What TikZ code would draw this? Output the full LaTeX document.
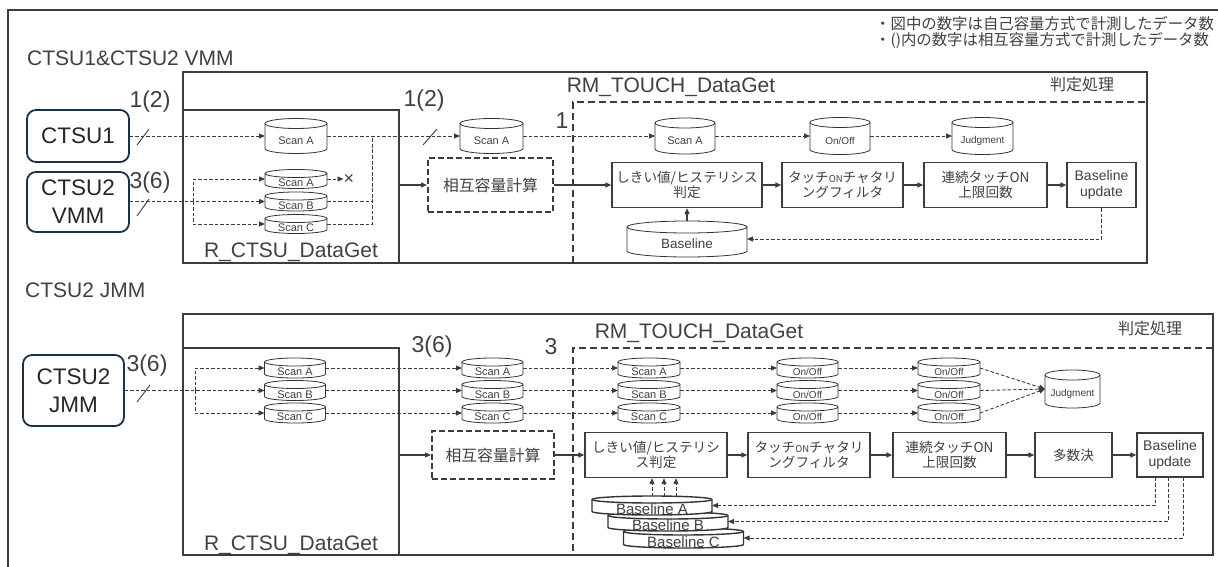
\documentclass[tikz,border=0pt]{standalone}
\usepackage{fontspec}
\setmainfont{Liberation Sans}
\newfontfamily\jpfont{Noto Sans CJK JP}
\usetikzlibrary{arrows.meta,calc}

\definecolor{ink}{HTML}{3C3C3C}
\definecolor{txt}{HTML}{404040}
\definecolor{navy}{HTML}{1C3048}
\definecolor{cylink}{HTML}{333333}

\newcommand\fs[2]{\fontsize{#1}{#2}\selectfont}

% database symbol: [extra style]{name}{x}{y}{width}{height}{end half-height}{font size}{text}
\newcommand\dbcyl[9][]{%
  \path[cylline,#1] (#3-#5/2,#4-#6/2+#7)
     arc[start angle=180,end angle=0,x radius=#5*0.5pt,y radius=#7*1pt]
     -- (#3+#5/2,#4+#6/2-#7)
     arc[start angle=0,end angle=-180,x radius=#5*0.5pt,y radius=#7*1pt]
     -- cycle;
  \draw[cylline,#1,fill=none] (#3-#5/2,#4-#6/2+#7)
     arc[start angle=180,end angle=360,x radius=#5*0.5pt,y radius=#7*1pt];
  \node[cylbox,minimum width=#5pt,minimum height=#6pt] (#2) at (#3,#4) {};
  \node[cyltext,font=\fs{#8}{#8}] (#2-t) at (#3,#4+#7*0.5+2) {#9};
}

\tikzset{
  frameline/.style={draw=ink,line width=2pt},
  container/.style={draw=ink,line width=2pt,inner sep=0,outer sep=0},
  dashcontainer/.style={draw=ink,line width=2pt,dash pattern=on 7pt off 4pt,inner sep=0,outer sep=0},
  src/.style={draw=navy,line width=1.8pt,rounded corners=9pt,align=center,inner sep=0,
              text=black!85,font=\fs{22.5}{28}},
  procbox/.style={draw=ink,line width=1.3pt,fill=white,align=center,inner sep=0,
                  text=txt,font=\jpfont\fs{13.6}{15.5}},
  calcbox/.style={procbox,line width=2pt,dash pattern=on 6pt off 3pt,font=\jpfont\fs{15.8}{18}},
  cylline/.style={draw=cylink,fill=white,line width=0.8pt},
  thickcyl/.style={line width=1.4pt},
  cylbox/.style={inner sep=0,outer sep=0},
  cyltext/.style={inner sep=0,text=black!75},
  flow/.style={draw=ink,line width=1.2pt,-{Triangle[length=6pt,width=5pt]}},
  data/.style={draw=ink,line width=0.9pt,dash pattern=on 3.5pt off 2pt},
  dataarrow/.style={data,-{Triangle[length=6pt,width=5pt]}},
  tick/.style={draw=ink,line width=0.9pt},
  count/.style={inner sep=0,text=txt,font=\fs{23}{23}},
  title/.style={inner sep=0,text=txt,font=\fs{21}{21}},
  jplabel/.style={inner sep=0,text=txt,font=\jpfont\fs{16}{16}},
}

\begin{document}
\begin{tikzpicture}[x=1pt,y=-1pt]
\useasboundingbox (0,0) rectangle (1218,567);
\draw[frameline] (8,10) rectangle (1240,590);

% notes
\node[jplabel,font=\jpfont\fs{15.4}{15.4},anchor=west] (note1) at (875,24) {・図中の数字は自己容量方式で計測したデータ数};
\node[jplabel,font=\jpfont\fs{15.4}{15.4},anchor=west] (note2) at (875,40) {・()内の数字は相互容量方式で計測したデータ数};

% ================= CTSU1 & CTSU2 VMM =================
\node[title,anchor=west] (secU) at (27,58) {CTSU1\&CTSU2 VMM};

\node[dashcontainer,minimum width=574pt,minimum height=161pt] (judU) at (860,182.5) {};
\node[container,minimum width=964pt,minimum height=191pt] (rmU) at (665,167.5) {};
\node[container,minimum width=216pt,minimum height=153pt] (rctU) at (291,186.5) {};
\node[title] (rmUt) at (671,87) {RM\_TOUCH\_DataGet};
\node[title] (rctUt) at (291,252) {R\_CTSU\_DataGet};
\node[jplabel] (judUt) at (1082,84) {判定処理};

\node[src,minimum width=102pt,minimum height=52pt] (ctsu1) at (78,136) {CTSU1};
\node[src,minimum width=102pt,minimum height=60pt] (vmm) at (78,202) {CTSU2\\VMM};

\dbcyl{sA1}{296}{136}{62}{35}{5}{11}{Scan A}
\dbcyl{vA}{296}{179}{62}{19}{4}{11}{Scan A}
\dbcyl{vB}{296}{201.5}{62}{19}{4}{11}{Scan B}
\dbcyl{vC}{296}{224}{62}{19}{4}{11}{Scan C}
\dbcyl{sA3}{491.5}{136}{63}{35}{5}{11}{Scan A}
\dbcyl{sA4}{685}{136}{60}{36}{5}{11}{Scan A}
\dbcyl{onU}{840}{136}{60}{37}{5}{10}{On/Off}
\dbcyl{jdU}{982.5}{136}{61}{37}{5}{10}{Judgment}
\dbcyl{bsU}{687}{239}{120}{36}{6}{13.5}{Baseline}

\node[calcbox,minimum width=125pt,minimum height=54pt] (mutU) at (490.5,185) {相互容量計算};
\node[procbox,minimum width=150pt,minimum height=45pt] (thrU) at (687,185) {しきい値/ヒステリシス\\判定};
\node[procbox,minimum width=121pt,minimum height=45pt] (chU) at (842.5,185) {タッチ{\fs{9.5}{15.5}ON}チャタリ\\ングフィルタ};
\node[procbox,minimum width=123pt,minimum height=45pt] (ctU) at (985.5,185) {連続タッチON\\上限回数};
\node[procbox,font=\fs{14}{16},minimum width=69pt,minimum height=45pt] (buU) at (1101.5,185) {Baseline\\update};

\node[inner sep=0,text=txt,font=\fs{18}{18}] (xU) at (349,179) {×};

% data paths
\draw[dataarrow] (ctsu1.east) -- (sA1.west);
\draw[tick] (137,145) -- (149,129);
\node[count] (n12a) at (150,102) {1(2)};

\coordinate (brU) at (193,201.5);
\draw[dataarrow] (vmm.east |- vB.west) -- (vB.west);
\draw[dataarrow] (brU) |- (vA.west);
\draw[dataarrow] (brU) |- (vC.west);
\draw[tick] (137,216) -- (149,199);
\node[count] (n36a) at (150,183) {3(6)};

\draw[dataarrow] (vA.east) -- (xU.west);
\coordinate (jU) at (372,136);
\draw[data] (vB.east) -| (jU);
\draw[data] (vC.east) -| (jU);
\draw[dataarrow] (sA1.east) -- (sA3.west);
\draw[tick] (423,145) -- (437,129);
\node[count] (n12b) at (424,101) {1(2)};
\draw[dataarrow] (sA3.east) -- (sA4.west);
\node[count] (n1) at (562,121) {1};
\draw[dataarrow] (sA4.east) -- (onU.west);
\draw[dataarrow] (onU.east) -- (jdU.west);

% processing chain
\draw[flow] (rctU.east |- mutU.west) -- (mutU.west);
\draw[flow] (mutU.east) -- (thrU.west);
\draw[flow] (thrU.east) -- (chU.west);
\draw[flow] (chU.east) -- (ctU.west);
\draw[flow] (ctU.east) -- (buU.west);
\draw[flow] (bsU.north) -- (thrU.south);
\draw[dataarrow] (buU.south) |- (bsU.east);

% ================= CTSU2 JMM =================
\node[title,anchor=west] (secL) at (25,290) {CTSU2 JMM};

\node[dashcontainer,minimum width=640pt,minimum height=207pt] (judL) at (893,451.5) {};
\node[container,minimum width=1030pt,minimum height=241pt] (rmL) at (698,434.5) {};
\node[container,minimum width=216pt,minimum height=207pt] (rctL) at (291,451.5) {};
\node[title] (rmLt) at (699,333) {RM\_TOUCH\_DataGet};
\node[title] (rctLt) at (291,545) {R\_CTSU\_DataGet};
\node[jplabel] (judLt) at (1150,328) {判定処理};

\node[src,minimum width=101pt,minimum height=71pt] (jmm) at (73.5,390.5) {CTSU2\\JMM};

\dbcyl{lA1}{295}{368}{61}{20}{4}{11}{Scan A}
\dbcyl{lB1}{295}{390.5}{61}{20}{4}{11}{Scan B}
\dbcyl{lC1}{295}{413}{61}{20}{4}{11}{Scan C}
\dbcyl{lA2}{492.5}{368}{61}{20}{4}{11}{Scan A}
\dbcyl{lB2}{492.5}{390.5}{61}{20}{4}{11}{Scan B}
\dbcyl{lC2}{492.5}{413}{61}{20}{4}{11}{Scan C}
\dbcyl{lA3}{649}{368}{62}{20}{4}{11}{Scan A}
\dbcyl{lB3}{649}{390.5}{62}{20}{4}{11}{Scan B}
\dbcyl{lC3}{649}{413}{62}{20}{4}{11}{Scan C}
\dbcyl{lA4}{807.5}{368}{61}{20}{4}{10}{On/Off}
\dbcyl{lB4}{807.5}{390.5}{61}{20}{4}{10}{On/Off}
\dbcyl{lC4}{807.5}{413}{61}{20}{4}{10}{On/Off}
\dbcyl{lA5}{949}{368}{62}{20}{4}{10}{On/Off}
\dbcyl{lB5}{949}{390.5}{62}{20}{4}{10}{On/Off}
\dbcyl{lC5}{949}{413}{62}{20}{4}{10}{On/Off}
\dbcyl{jdL}{1072.5}{389}{55}{38}{5}{10}{Judgment}

% baseline stores: the front one (A) overlaps the ones behind it
\dbcyl[thickcyl]{blC}{683.5}{538}{120}{20}{3.5}{15}{Baseline C}
\dbcyl[thickcyl]{blB}{668}{521.5}{120}{19}{3.5}{15}{Baseline B}
\dbcyl[thickcyl]{blA}{652}{505.5}{120}{19}{3.5}{15}{Baseline A}

\node[calcbox,minimum width=122pt,minimum height=48pt] (mutL) at (493,455) {相互容量計算};
\node[procbox,minimum width=142pt,minimum height=45pt] (thrL) at (656,455) {しきい値/ヒステリシ\\ス判定};
\node[procbox,minimum width=122pt,minimum height=45pt] (chL) at (809,455) {タッチ{\fs{9.5}{15.5}ON}チャタリ\\ングフィルタ};
\node[procbox,minimum width=113pt,minimum height=45pt] (ctL) at (949.5,455) {連続タッチON\\上限回数};
\node[procbox,minimum width=77pt,minimum height=45pt] (mjL) at (1073.5,455) {多数決};
\node[procbox,font=\fs{14}{16},minimum width=66pt,minimum height=44pt] (buL) at (1170,455) {Baseline\\update};

% data paths
\coordinate (brL) at (195,390.5);
\draw[dataarrow] (jmm.east |- lB1.west) -- (lB1.west);
\draw[dataarrow] (brL) |- (lA1.west);
\draw[dataarrow] (brL) |- (lC1.west);
\draw[tick] (137,402) -- (150,385);
\node[count] (n36b) at (147,366) {3(6)};
\node[count] (n36c) at (432,347) {3(6)};
\node[count] (n3) at (551,347) {3};

\foreach \r in {A,B,C}{
  \draw[dataarrow] (l\r1.east) -- (l\r2.west);
  \draw[dataarrow] (l\r2.east) -- (l\r3.west);
  \draw[dataarrow] (l\r3.east) -- (l\r4.west);
  \draw[dataarrow] (l\r4.east) -- (l\r5.west);
  \draw[dataarrow] (l\r5.east) -- (jdL.west);
}

% processing chain
\draw[flow] (rctL.east |- mutL.west) -- (mutL.west);
\draw[flow] (mutL.east) -- (thrL.west);
\draw[flow] (thrL.east) -- (chL.west);
\draw[flow] (chL.east) -- (ctL.west);
\draw[flow] (ctL.east) -- (mjL.west);
\draw[flow] (mjL.east) -- (buL.west);

\foreach \dx in {0,12,24}
  \draw[dataarrow] ($(blA.north)+(\dx,0)$) coordinate (up) -- (up |- thrL.south);

\draw[dataarrow] ($(buL.south)+(-15,0)$) |- (blA.east);
\draw[dataarrow] ($(buL.south)+(-2,0)$) |- (blB.east);
\draw[dataarrow] ($(buL.south)+(13,0)$) |- (blC.east);
\end{tikzpicture}
\end{document}
